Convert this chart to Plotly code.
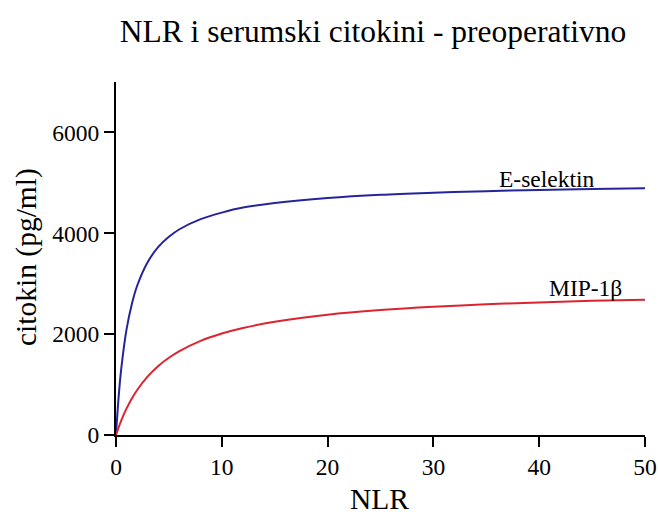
import plotly.graph_objects as go

# NLR values (x) at which the curves were read
nlr = [0, 0.25, 0.5, 1, 1.5, 2, 3, 4, 5, 6, 8, 10, 12, 15, 20, 25, 30, 35, 40, 45, 50]

# E-selektin (pg/ml)
e_selektin = [0, 760, 1320, 2100, 2600, 2960, 3430, 3730, 3930, 4080, 4280, 4410,
              4510, 4600, 4700, 4765, 4805, 4835, 4860, 4878, 4893]

# MIP-1beta (pg/ml)
mip1b = [0, 150, 290, 527, 725, 893, 1162, 1370, 1532, 1664, 1866, 2012,
         2122, 2246, 2385, 2477, 2543, 2591, 2629, 2660, 2684]

x_ticks = [0, 10, 20, 30, 40, 50]
y_ticks = [0, 2000, 4000, 6000]

FONT = "Liberation Serif"

W, H = 658, 514
L, R, T, B = 116, 13, 82, 79
PW, PH = W - L - R, H - T - B


def px_to_paper(px, py):
    """convert page pixel position to plot-area paper coordinates"""
    return (px - L) / PW, (H - B - py) / PH


fig = go.Figure()
fig.add_trace(go.Scatter(x=nlr, y=e_selektin, mode="lines", line=dict(color="#25259a", width=2, shape="spline"),
                         name="E-selektin", hoverinfo="skip"))
fig.add_trace(go.Scatter(x=nlr, y=mip1b, mode="lines", line=dict(color="#dc2430", width=2, shape="spline"),
                         name="MIP-1β", hoverinfo="skip"))

fig.add_annotation(x=40.7, y=4890, text="E-selektin", showarrow=False, xanchor="center", yanchor="bottom",
                   font=dict(family=FONT, size=23.5, color="black"), yshift=-6)
fig.add_annotation(x=44.4, y=2700, text="MIP-1β", showarrow=False, xanchor="center", yanchor="bottom",
                   font=dict(family=FONT, size=23.5, color="black"), yshift=-4)

# axis titles
nx, ny = px_to_paper(379, 517)
fig.add_annotation(x=nx, y=ny, xref="paper", yref="paper", text="NLR", showarrow=False,
                   xanchor="center", yanchor="bottom", font=dict(family=FONT, size=29.5, color="black"))
cx, cy = px_to_paper(26, 257)
fig.add_annotation(x=cx, y=cy, xref="paper", yref="paper", text="citokin (pg/ml)", showarrow=False,
                   textangle=-90, xanchor="center", yanchor="middle", font=dict(family=FONT, size=29.5, color="black"))

fig.update_layout(
    width=W, height=H,
    margin=dict(l=L, r=R, t=T, b=B),
    paper_bgcolor="white", plot_bgcolor="white",
    showlegend=False,
    title=dict(text="NLR i serumski citokini - preoperativno", x=373 / W, xanchor="center",
               y=1 - 42 / H, yanchor="bottom", yref="container",
               font=dict(family=FONT, size=31.5, color="black")),
    font=dict(family=FONT, color="black"),
)

fig.update_xaxes(range=[0, 50], tickvals=x_ticks, ticks="outside", ticklen=10, tickwidth=2, tickcolor="black",
                 showline=True, linecolor="black", linewidth=2, showgrid=False, zeroline=False, automargin=False,
                 tickfont=dict(family=FONT, size=23.5, color="black"))
fig.update_yaxes(range=[0, 7000], tickvals=y_ticks, ticks="outside", ticklen=10, tickwidth=2, tickcolor="black",
                 showline=True, linecolor="black", linewidth=2, showgrid=False, zeroline=False, automargin=False,
                 tickfont=dict(family=FONT, size=23.5, color="black"))

fig.write_html("out.html", config={"responsive": False, "displayModeBar": False},
               post_script="document.body.style.margin='0';document.body.style.overflow='hidden';")
